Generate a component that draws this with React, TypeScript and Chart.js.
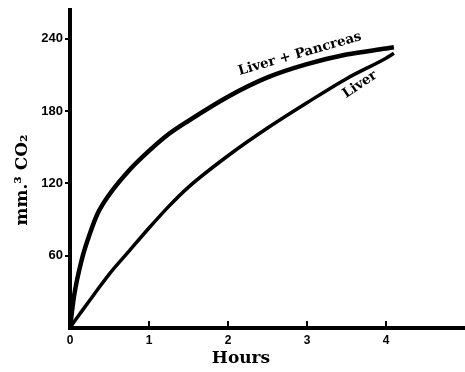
import React, { useEffect, useRef } from "react";
import { Chart, registerables } from "chart.js";

Chart.register(...registerables);

const hours = [0, 0.05, 0.15, 0.25, 0.35, 0.5, 0.75, 1, 1.25, 1.5, 2, 2.5, 3, 3.5, 4, 4.1];
const liverPancreas = [0, 26, 57, 78, 95, 111, 131, 147, 161, 172, 192, 208, 219, 227, 232, 233];
const liver = [0, 5, 14, 23, 32, 45, 64, 83, 101, 117, 143, 166, 187, 207, 224, 228];
const xTicks = [0, 1, 2, 3, 4];
const yTicks = [60, 120, 180, 240];
const seriesNames = ["Liver + Pancreas", "Liver"];
const xTitle = "Hours";
const yTitle = "mm.\u00B3 CO\u2082";

const SERIF = "'DejaVu Serif', serif";
const SANS = "'Liberation Sans', Arial, sans-serif";

const decorPlugin = {
  id: "decor",
  afterDraw(chart: any) {
    const ctx = chart.ctx;
    const xs = chart.scales.x;
    const ys = chart.scales.y;
    const bottom = chart.chartArea.bottom;
    ctx.save();
    // upward x tick marks
    ctx.strokeStyle = "#000";
    ctx.lineWidth = 2;
    xTicks.forEach((v) => {
      if (v === 0) return;
      const px = xs.getPixelForValue(v);
      ctx.beginPath();
      ctx.moveTo(px, bottom);
      ctx.lineTo(px, bottom - 7);
      ctx.stroke();
    });
    ctx.fillStyle = "#000";
    ctx.textAlign = "center";
    ctx.textBaseline = "middle";
    // axis titles
    ctx.font = `bold 17px ${SERIF}`;
    ctx.fillText(xTitle, 241, 359);
    ctx.save();
    ctx.translate(23, 180);
    ctx.rotate(-Math.PI / 2);
    ctx.fillText(yTitle, 0, 0);
    ctx.restore();
    // curve labels
    ctx.font = `bold 13.5px ${SERIF}`;
    const labels = [
      { text: seriesNames[0], t: 2.91, v: 227.5, angle: -16 },
      { text: seriesNames[1], t: 3.67, v: 202, angle: -34 },
    ];
    labels.forEach((l) => {
      ctx.save();
      ctx.translate(xs.getPixelForValue(l.t), ys.getPixelForValue(l.v));
      ctx.rotate((l.angle * Math.PI) / 180);
      ctx.fillText(l.text, 0, 0);
      ctx.restore();
    });
    ctx.restore();
  },
};

export default function App() {
  const ref = useRef<HTMLCanvasElement | null>(null);
  useEffect(() => {
    if (!ref.current) return;
    const chart = new Chart(ref.current, {
      type: "line",
      data: {
        datasets: [
          {
            label: seriesNames[0],
            data: hours.map((h, i) => ({ x: h, y: liverPancreas[i] })),
            borderColor: "#000",
            borderWidth: 4.5,
            pointRadius: 0,
            cubicInterpolationMode: "monotone",
            fill: false,
          },
          {
            label: seriesNames[1],
            data: hours.map((h, i) => ({ x: h, y: liver[i] })),
            borderColor: "#000",
            borderWidth: 3.5,
            pointRadius: 0,
            cubicInterpolationMode: "monotone",
            fill: false,
          },
        ],
      },
      options: {
        animation: false,
        responsive: false,
        layout: { padding: { top: 10, left: 0, right: 0, bottom: 0 } },
        plugins: { legend: { display: false }, tooltip: { enabled: false } },
        scales: {
          x: {
            type: "linear",
            min: 0,
            max: 5,
            afterBuildTicks: (s: any) => {
              s.ticks = xTicks.map((v) => ({ value: v }));
            },
            afterFit: (s: any) => {
              s.height = 44;
            },
            grid: { display: false, drawTicks: false },
            border: { display: true, color: "#000", width: 4 },
            ticks: {
              color: "#000",
              padding: 5,
              maxRotation: 0,
              font: { family: SANS, size: 12, weight: "bold" },
              callback: (v: any) => String(v),
            },
          },
          y: {
            type: "linear",
            min: 0,
            max: 264,
            afterBuildTicks: (s: any) => {
              s.ticks = yTicks.map((v) => ({ value: v }));
            },
            afterFit: (s: any) => {
              s.width = 70;
            },
            grid: {
              display: true,
              drawOnChartArea: false,
              drawTicks: true,
              tickLength: 5,
              color: "#000",
              lineWidth: 2,
            },
            border: { display: true, color: "#000", width: 4 },
            ticks: {
              color: "#000",
              padding: 2,
              font: { family: SANS, size: 13, weight: "bold" },
              callback: (v: any) => String(v),
            },
          },
        },
      },
      plugins: [decorPlugin],
    } as any);
    return () => chart.destroy();
  }, []);
  return (
    <div style={{ position: "fixed", left: 0, top: 0, width: 465, height: 372, background: "#fff" }}>
      <canvas ref={ref} width={465} height={372} style={{ display: "block" }} />
    </div>
  );
}
